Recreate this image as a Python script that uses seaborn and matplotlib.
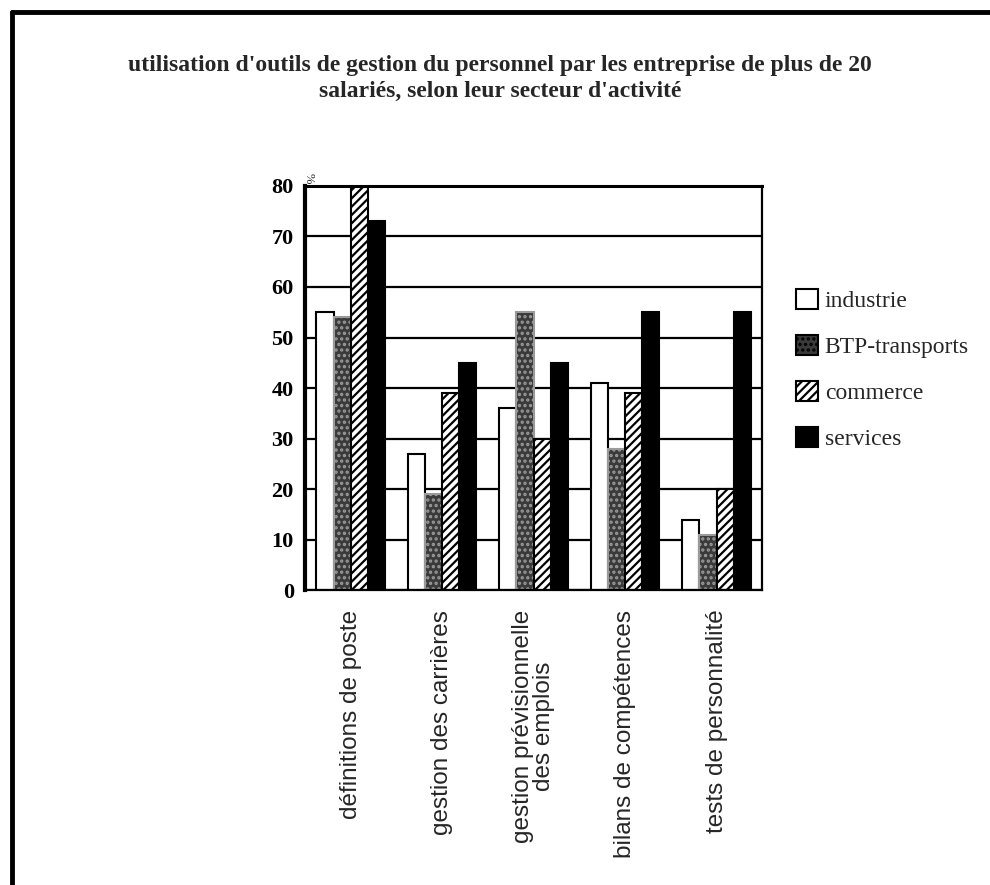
import matplotlib
matplotlib.use("Agg")
import matplotlib.pyplot as plt
import matplotlib.lines as mlines
import matplotlib.patches as mpatches
import pandas as pd
import seaborn as sns
import numpy as np

# données (%)
outils = ["définitions de poste", "gestion des carrières",
          "gestion prévisionnelle\ndes emplois", "bilans de compétences",
          "tests de personnalité"]
secteurs = ["industrie", "BTP-transports", "commerce", "services"]
industrie = [55, 27, 36, 41, 14]
btp = [54, 19, 55, 28, 11]
commerce = [80, 39, 30, 39, 20]
services = [73, 45, 45, 55, 55]

df = pd.DataFrame({
    "outil": outils * 4,
    "secteur": np.repeat(secteurs, len(outils)),
    "valeur": industrie + btp + commerce + services,
})

faces = {"industrie": "white", "BTP-transports": "#3a3a3a",
         "commerce": "white", "services": "black"}
hatches = {"industrie": "", "BTP-transports": "...", "commerce": "////",
           "services": ""}

sns.set_style("white")
plt.rcParams["hatch.linewidth"] = 1.6

fig = plt.figure(figsize=(9.9, 8.85), dpi=100)
ax = fig.add_axes([0.308, 0.333, 0.462, 0.457])

sns.barplot(data=df, x="outil", y="valeur", hue="secteur", palette=faces,
            width=0.75, edgecolor="black", linewidth=1.5, ax=ax, legend=False)

for cont, sect in zip(ax.containers, secteurs):
    for bar in cont:
        bar.set_hatch(hatches[sect])
        if sect == "BTP-transports":
            bar.set_edgecolor("#9a9a9a")

ax.set_ylim(0, 80)
ax.set_xlim(-0.5, len(outils) - 0.5)
ax.set_yticks(range(0, 81, 10))
ax.set_axisbelow(True)
ax.yaxis.grid(True, color="black", linewidth=1.6)
ax.set_xlabel("")
ax.set_ylabel("")

for s in ax.spines.values():
    s.set_color("black")
    s.set_linewidth(1.6)
ax.spines["left"].set_linewidth(3)
ax.spines["top"].set_linewidth(2.2)

ax.tick_params(axis="y", direction="out", length=6, width=2, colors="black",
               pad=2)
ax.tick_params(axis="x", which="major", length=0, pad=14)
ax.set_xticks(np.arange(-0.5, len(outils), 1), minor=True)
ax.tick_params(axis="x", which="minor", direction="out", length=6, width=2)

for lab in ax.get_yticklabels():
    lab.set_fontfamily("Liberation Serif")
    lab.set_fontweight("bold")
    lab.set_fontsize(16)
ax.set_xticks(range(len(outils)))
ax.set_xticklabels(outils, rotation=90, fontsize=17.5, fontfamily="Liberation Sans",
                   va="top", ha="center", linespacing=0.9)

ax.text(0.008, 1.006, "%", transform=ax.transAxes, rotation=-90, fontsize=9,
        ha="center", va="bottom", fontfamily="Liberation Serif")

fig.text(0.505, 0.911,
         "utilisation d'outils de gestion du personnel par les entreprise de plus de 20\n"
         "salariés, selon leur secteur d'activité",
         ha="center", va="center", fontsize=17, fontweight="bold",
         fontfamily="Liberation Serif", linespacing=1.3)

handles = [mpatches.Patch(facecolor=faces[s], edgecolor="black", hatch=hatches[s],
                          linewidth=1.5, label=s) for s in secteurs]
fig.legend(handles=handles, loc="upper left", bbox_to_anchor=(0.795, 0.684),
           frameon=False, prop={"family": "Liberation Serif", "size": 17},
           handlelength=0.9, handleheight=0.9, handletextpad=0.3,
           labelspacing=0.98, borderaxespad=0)

# cadre du document
fig.add_artist(mlines.Line2D([0.012, 1.0], [0.986, 0.986], color="black",
                             linewidth=3.5, transform=fig.transFigure))
fig.add_artist(mlines.Line2D([0.012, 0.012], [0.986, 0.0], color="black",
                             linewidth=3.5, transform=fig.transFigure))

fig.savefig("out.png", dpi=100, facecolor="white")
